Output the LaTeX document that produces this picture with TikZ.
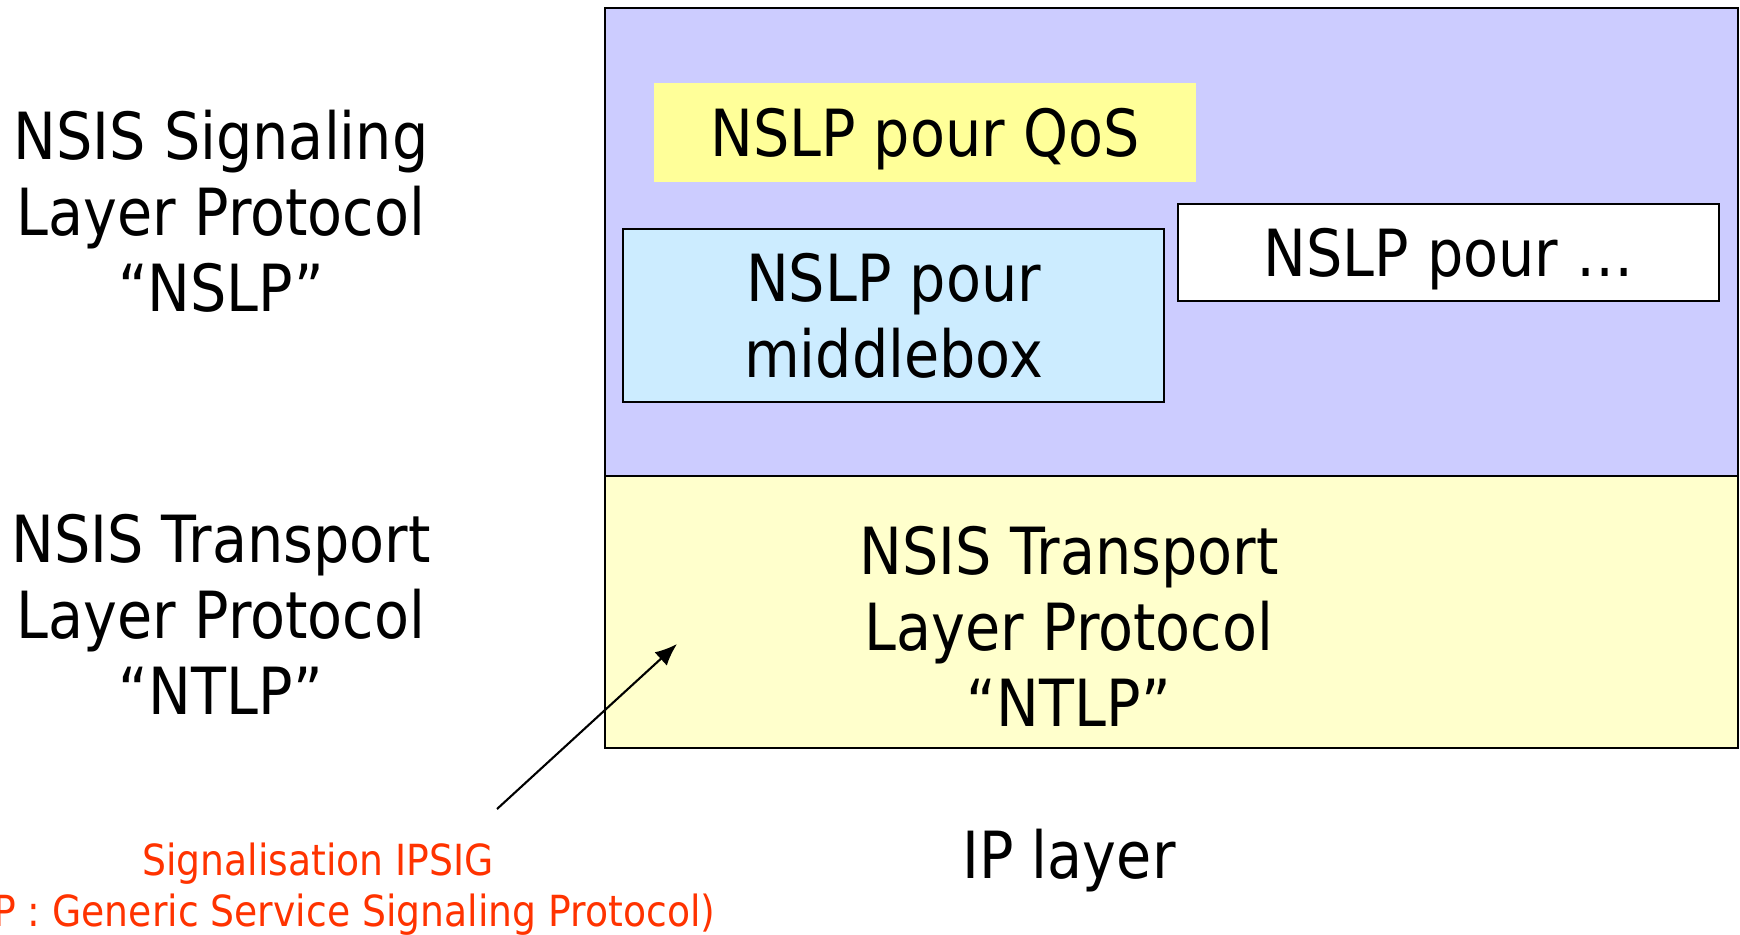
\documentclass[tikz,border=0pt]{standalone}
\usepackage{fontspec}
\setmainfont{DejaVu Sans}[FakeStretch=0.88]
\usetikzlibrary{arrows.meta}
\definecolor{nslpviolet}{RGB}{204, 204, 255}
\definecolor{ntlpyellow}{RGB}{255, 255, 204}
\definecolor{qosyellow}{RGB}{255, 255, 153}
\definecolor{mbblue}{RGB}{204, 236, 255}
\definecolor{sigred}{RGB}{255, 51, 0}
\tikzset{
  layerbox/.style = {draw, line width=0.6pt, inner sep=0pt},
  protobox/.style = {inner sep=0pt, text depth=0pt, align=center, font=\fontsize{18.5}{21.6}\selectfont},
  bigtext/.style  = {align=center, font=\fontsize{18.5}{21.6}\selectfont},
  redtext/.style  = {text=sigred, inner sep=0pt, font=\fontsize{12.2}{14.5}\selectfont}
}

\begin{document}
\begin{tikzpicture}[x=0.1mm, y=-0.1mm]
\useasboundingbox (0,0) rectangle (1740,935);
% layers
\node[layerbox, fill=nslpviolet, minimum width=113.3mm, minimum height=46.8mm] (nslp) at (1171.5,242) {};
\node[layerbox, fill=ntlpyellow, minimum width=113.3mm, minimum height=27.2mm] (ntlp) at (1171.5,612) {};
% protocols of the signaling layer
\node[protobox, fill=qosyellow, minimum width=54.2mm, minimum height=9.9mm] (qos) at (925,132.5) {NSLP pour QoS};
\node[protobox, draw, line width=0.6pt, fill=mbblue, minimum width=54.1mm, minimum height=17.3mm] (mbox) at (893.5,315.5) {NSLP pour\\middlebox};
\node[protobox, draw, line width=0.6pt, fill=white, minimum width=54.1mm, minimum height=9.7mm] (other) at (1448.5,252.5) {NSLP pour \dots};
% labels
\node[bigtext] (nslplbl) at (221,211) {NSIS Signaling\\Layer Protocol\\“NSLP”};
\node[bigtext] (ntlplbl) at (221,614) {NSIS Transport\\Layer Protocol\\“NTLP”};
\node[bigtext] (ntlptxt) at (1069,626) {NSIS Transport\\Layer Protocol\\“NTLP”};
\node[bigtext] (iplbl) at (1069,861) {IP layer};
\node[redtext] (sig) at (318,864) {Signalisation IPSIG};
\node[redtext, anchor=east] (gssp) at (716,915) {P : Generic Service Signaling Protocol)};
% pointer
\coordinate (tail) at (497,809);
\coordinate (tip) at (677,644);
\draw[-{Latex[length=2.2mm, width=1.8mm]}, line width=0.6pt] (tail) -- (tip);
\end{tikzpicture}
\end{document}
